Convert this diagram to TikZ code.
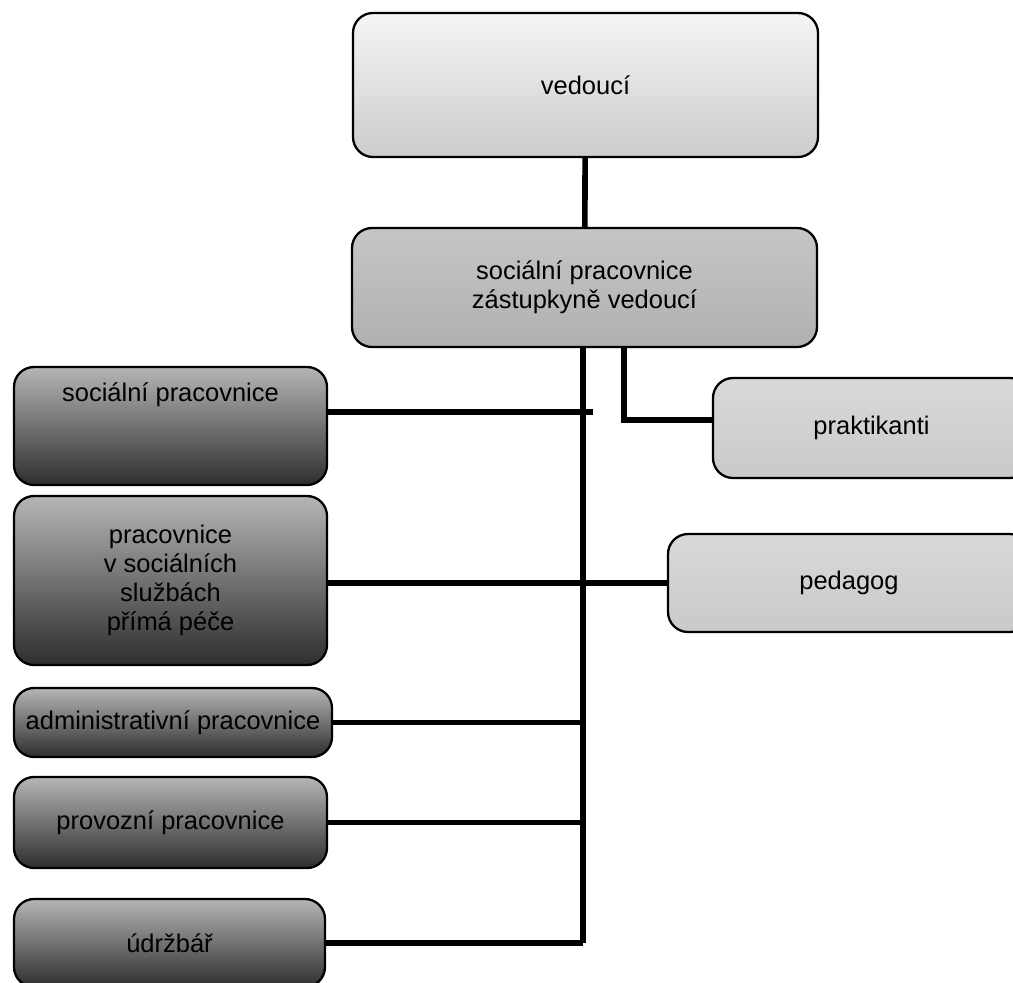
\documentclass[tikz,border=0pt]{standalone}
\usepackage{fontspec}
\setmainfont{Liberation Sans}
\usepackage{tikz}

\begin{document}
\begin{tikzpicture}[
        box/.style={draw, line width=1.3pt, rounded corners=0.4cm, align=center,
            font=\fontsize{14.5}{16.5}\selectfont},
        lightbox/.style={box, top color=gray!8, bottom color=gray!40},
        midbox/.style={box, top color=gray!45, bottom color=gray!62},
        darkbox/.style={box, top color=gray!58, bottom color=black!82},
        sidebox/.style={box, top color=gray!30, bottom color=gray!42},
        link/.style={line width=3.2pt}
    ]
            \useasboundingbox (0,0) rectangle (20.26,-19.66);

            % Nodes
            \node[lightbox, minimum width=9.3cm, minimum height=2.88cm] (ved) at (11.71,-1.70) {vedoucí};
            \node[midbox, minimum width=9.3cm, minimum height=2.38cm] (zast) at (11.69,-5.75) {sociální pracovnice\\zástupkyně vedoucí};
            \node[darkbox, minimum width=6.26cm, minimum height=2.36cm, text depth=1.34cm] (socp) at (3.41,-8.52) {sociální pracovnice};
            \node[darkbox, minimum width=6.26cm, minimum height=3.38cm] (pss) at (3.41,-11.61) {pracovnice\\v sociálních\\službách\\přímá péče};
            \node[darkbox, minimum width=6.36cm, minimum height=1.38cm] (adm) at (3.46,-14.45) {administrativní pracovnice};
            \node[darkbox, minimum width=6.26cm, minimum height=1.82cm] (prov) at (3.41,-16.45) {provozní pracovnice};
            \node[darkbox, minimum width=6.22cm, minimum height=1.76cm] (udr) at (3.39,-18.86) {údržbář};
            \node[sidebox, minimum width=6.34cm, minimum height=2.0cm] (prakt) at (17.43,-8.56) {praktikanti};
            \node[sidebox, minimum width=7.24cm, minimum height=1.96cm] (ped) at (16.98,-11.66) {pedagog};

            \coordinate (trtop) at (11.66,-6.94);
            \coordinate (trbot) at (11.66,-18.86);
            \coordinate (pk) at (12.48,-6.94);
            \coordinate (spj) at (11.86,-8.24);

            % Lines
            \draw[link] (ved) -- (zast);
            \draw[link] (trtop) -- (trbot);
            \draw[link] (pk) |- ([yshift=0.16cm]prakt.west);
            \draw[link] (spj) -- (spj -| socp.east);
            \draw[link] (ped.west) -- (ped.west -| pss.east);
            \draw[link] (adm.east) -- (adm.east -| trtop);
            \draw[link] (prov.east) -- (prov.east -| trtop);
            \draw[link] (udr.east) -- (trbot);

        \end{tikzpicture}
\end{document}
